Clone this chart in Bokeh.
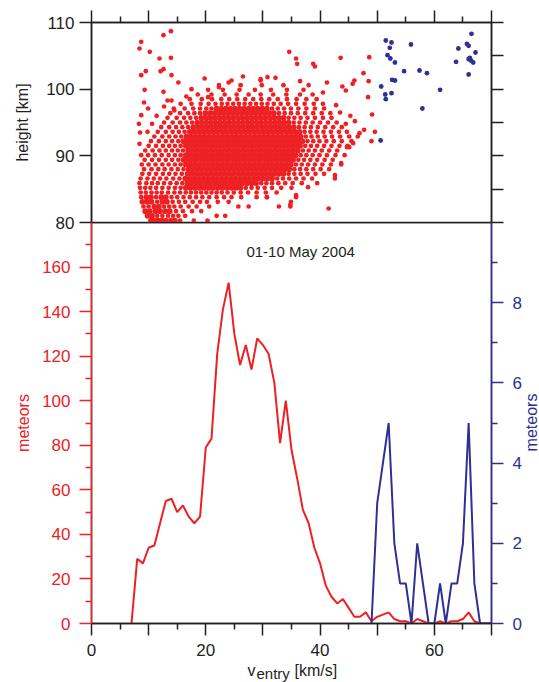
from math import pi
from bokeh.plotting import figure
from bokeh.models import Range1d, LinearAxis, FixedTicker, Label
from bokeh.layouts import column
from bokeh.embed import file_html
from bokeh.resources import INLINE

RED = "#ED2024"
BLUE = "#2E3192"
INK = "#231F20"
FONT = "Liberation Sans"

# ---------------- data ----------------
# histogram (bottom panel): entry velocity bins [km/s]
red_vel = [7, 8, 9, 10, 11, 12, 13, 14, 15, 16, 17, 18, 19, 20, 21, 22, 23, 24, 25, 26,
           27, 28, 29, 30, 31, 32, 33, 34, 35, 36, 37, 38, 39, 40, 41, 42, 43, 44, 45, 46,
           47, 48, 49, 50, 51, 52, 53, 54, 55, 56, 57, 58, 59, 60, 61, 62, 63, 64, 65, 66,
           67, 68, 69, 70]
red_count = [0, 29, 27, 34, 35, 45, 55, 56, 50, 53, 48, 45, 48, 79, 83, 121, 141, 153, 130, 116,
             125, 114, 128, 125, 121, 108, 81, 100, 78, 65, 51, 45, 34, 27, 17, 12, 9, 11, 7, 3,
             3, 5, 1, 3, 4, 5, 2, 1, 1, 0, 2, 1, 0, 0, 1, 0, 1, 1, 2, 5,
             1, 0, 0, 0]
blue_vel = [49, 50, 51, 52, 53, 54, 55, 56, 57, 58, 59, 60, 61, 62, 63, 64, 65, 66, 67, 68, 69, 70]
blue_count = [0, 3, 4, 5, 2, 1, 1, 0, 2, 1, 0, 0, 1, 0, 1, 1, 2, 5, 1, 0, 0, 0]

# scatter (top panel): rows of (height [km], entry velocities [km/s])
red_rows = [
    (80.3, [10.4, 11.1, 11.7, 12.3, 13.0, 13.9, 14.6, 15.5, 17.9, 20.3]),
    (81.0, [9.8, 10.6, 11.5, 12.4, 13.4, 14.3, 15.2, 16.4, 21.9, 23.4]),
    (81.7, [9.4, 10.2, 11.2, 12.0, 12.9, 13.7, 14.8, 16.0, 17.6, 19.2]),
    (82.4, [9.1, 10.0, 11.0, 11.8, 12.7, 13.6, 14.5, 15.6, 17.0, 18.4, 20.6, 25.7, 27.5, 32.8, 34.8]),
    (83.1, [8.9, 9.7, 10.5, 11.5, 12.4, 13.2, 14.2, 15.3, 16.4, 17.7, 19.0, 20.2, 22.1, 24.0, 34.9]),
    (83.8, [8.7, 9.6, 10.4, 11.3, 12.2, 13.0, 14.0, 15.0, 16.1, 17.2, 18.3, 19.4, 20.6, 21.9, 23.2,
            24.5, 26.2, 28.9, 30.7, 35.8]),
    (84.5, [8.6, 9.5, 10.5, 11.4, 12.3, 13.4, 14.5, 15.5, 16.5, 17.4, 18.3, 19.2, 20.1, 21.0, 21.9,
            22.8, 23.8, 24.9, 26.1, 27.4, 28.9, 30.5, 32.4]),
    (85.2, [8.5, 9.4, 10.3, 11.3, 12.4, 13.5, 14.6, 15.6, 16.5, 17.3, 18.1, 18.9, 19.7, 20.5, 21.3,
            22.1, 22.9, 23.7, 24.5, 25.3, 26.1, 27.0, 28.0, 29.1, 30.3, 31.6, 33.2, 35.0]),
    (85.9, [8.4, 9.6, 10.6, 11.6, 12.7, 13.8, 14.9, 15.9, 16.8, 17.6, 18.4, 19.2, 20.0, 20.8, 21.6,
            22.4, 23.2, 24.0, 24.8, 25.6, 26.4, 27.2, 28.0, 28.8, 29.7, 30.6, 31.6, 32.7, 33.9, 35.2, 36.8]),
    (86.6, [8.6, 9.8, 10.9, 12.0, 13.1, 14.3, 15.4, 16.4, 17.2, 18.0, 18.8, 19.6, 20.4, 21.2, 22.0,
            22.8, 23.6, 24.4, 25.2, 26.0, 26.8, 27.6, 28.4, 29.2, 30.0, 30.8, 31.6, 32.5, 33.5, 34.6,
            35.8, 37.1, 38.6]),
    (87.3, [8.9, 10.1, 11.3, 12.5, 13.6, 14.7, 15.8, 16.8, 17.6, 18.4, 19.2, 20.0, 20.8, 21.6, 22.4,
            23.2, 24.0, 24.8, 25.6, 26.4, 27.2, 28.0, 28.8, 29.6, 30.4, 31.2, 32.0, 32.8, 33.6, 34.5,
            35.5, 36.6, 37.8, 39.2, 40.7]),
    (88.0, [9.2, 10.5, 11.7, 12.8, 14.0, 15.1, 16.1, 17.0, 17.8, 18.6, 19.4, 20.2, 21.0, 21.8, 22.6,
            23.4, 24.2, 25.0, 25.8, 26.6, 27.4, 28.2, 29.0, 29.8, 30.6, 31.4, 32.2, 33.0, 33.8, 34.6,
            35.5, 36.5, 37.6, 38.8, 40.1, 41.6]),
    (88.7, [8.8, 10.0, 11.2, 12.4, 13.5, 14.6, 15.6, 16.5, 17.3, 18.1, 18.9, 19.7, 20.5, 21.3, 22.1,
            22.9, 23.7, 24.5, 25.3, 26.1, 26.9, 27.7, 28.5, 29.3, 30.1, 30.9, 31.7, 32.5, 33.3, 34.1,
            34.9, 35.8, 36.8, 37.9, 39.1, 40.4, 41.9, 43.7]),
    (89.4, [9.3, 10.6, 11.8, 13.0, 14.1, 15.2, 16.1, 16.9, 17.7, 18.5, 19.3, 20.1, 20.9, 21.7, 22.5,
            23.3, 24.1, 24.9, 25.7, 26.5, 27.3, 28.1, 28.9, 29.7, 30.5, 31.3, 32.1, 32.9, 33.7, 34.5,
            35.3, 36.2, 37.2, 38.3, 39.5, 40.8, 42.2]),
    (90.1, [8.7, 9.9, 11.1, 12.3, 13.5, 14.6, 15.6, 16.5, 17.3, 18.1, 18.9, 19.7, 20.5, 21.3, 22.1,
            22.9, 23.7, 24.5, 25.3, 26.1, 26.9, 27.7, 28.5, 29.3, 30.1, 30.9, 31.7, 32.5, 33.3, 34.1,
            34.9, 35.7, 36.6, 37.6, 38.7, 39.9, 41.2, 42.7, 44.3]),
    (90.8, [9.4, 10.7, 11.9, 13.0, 14.1, 15.1, 16.0, 16.9, 17.7, 18.5, 19.3, 20.1, 20.9, 21.7, 22.5,
            23.3, 24.1, 24.9, 25.7, 26.5, 27.3, 28.1, 28.9, 29.7, 30.5, 31.3, 32.1, 32.9, 33.7, 34.5,
            35.3, 36.1, 37.0, 38.0, 39.1, 40.3, 41.6, 43.0]),
    (91.5, [10.0, 11.3, 12.5, 13.6, 14.6, 15.6, 16.5, 17.3, 18.1, 18.9, 19.7, 20.5, 21.3, 22.1, 22.9,
            23.7, 24.5, 25.3, 26.1, 26.9, 27.7, 28.5, 29.3, 30.1, 30.9, 31.7, 32.5, 33.3, 34.1, 34.9,
            35.7, 36.5, 37.4, 38.4, 39.5, 40.7, 42.0, 43.4, 44.8]),
    (92.2, [10.4, 11.8, 13.0, 14.1, 15.2, 16.1, 16.9, 17.7, 18.5, 19.3, 20.1, 20.9, 21.7, 22.5, 23.3,
            24.1, 24.9, 25.7, 26.5, 27.3, 28.1, 28.9, 29.7, 30.5, 31.3, 32.1, 32.9, 33.7, 34.5, 35.3,
            36.1, 36.9, 37.8, 38.8, 39.9, 41.1, 42.4, 43.8, 45.5]),
    (92.9, [11.0, 12.4, 13.6, 14.7, 15.7, 16.6, 17.4, 18.2, 19.0, 19.8, 20.6, 21.4, 22.2, 23.0, 23.8,
            24.6, 25.4, 26.2, 27.0, 27.8, 28.6, 29.4, 30.2, 31.0, 31.8, 32.6, 33.4, 34.2, 35.0, 35.8,
            36.6, 37.5, 38.5, 39.6, 40.8, 42.1, 43.5, 45.1, 46.6]),
    (93.6, [11.6, 13.0, 14.2, 15.3, 16.3, 17.2, 18.0, 18.8, 19.6, 20.4, 21.2, 22.0, 22.8, 23.6, 24.4,
            25.2, 26.0, 26.8, 27.6, 28.4, 29.2, 30.0, 30.8, 31.6, 32.4, 33.2, 34.0, 34.8, 35.6, 36.4,
            37.3, 38.3, 39.4, 40.6, 41.9, 43.3, 44.7]),
    (94.3, [12.2, 13.6, 14.8, 15.9, 16.9, 17.8, 18.6, 19.4, 20.2, 21.0, 21.8, 22.6, 23.4, 24.2, 25.0,
            25.8, 26.6, 27.4, 28.2, 29.0, 29.8, 30.6, 31.4, 32.2, 33.0, 33.8, 34.6, 35.4, 36.3, 37.3,
            38.4, 39.6, 40.9, 42.3, 43.8]),
    (95.0, [12.7, 14.2, 15.5, 16.6, 17.6, 18.5, 19.3, 20.1, 20.9, 21.7, 22.5, 23.3, 24.1, 24.9, 25.7,
            26.5, 27.3, 28.1, 28.9, 29.7, 30.5, 31.3, 32.1, 32.9, 33.7, 34.5, 35.4, 36.4, 37.5, 38.7,
            40.0, 41.4, 42.9]),
    (95.7, [13.3, 14.9, 16.2, 17.3, 18.3, 19.2, 20.0, 20.8, 21.6, 22.4, 23.2, 24.0, 24.8, 25.6, 26.4,
            27.2, 28.0, 28.8, 29.6, 30.4, 31.2, 32.0, 32.8, 33.6, 34.5, 35.5, 36.6, 37.8, 39.1, 40.5, 42.0]),
    (96.4, [13.8, 15.5, 16.9, 18.0, 19.0, 19.9, 20.7, 21.5, 22.3, 23.1, 23.9, 24.7, 25.5, 26.3, 27.1,
            27.9, 28.7, 29.5, 30.3, 31.1, 31.9, 32.8, 33.8, 34.9, 36.1, 37.4, 38.8, 40.3, 41.8]),
    (97.1, [14.4, 16.3, 17.8, 19.0, 20.1, 21.0, 21.9, 22.7, 23.5, 24.3, 25.1, 25.9, 26.7, 27.5, 28.3,
            29.1, 29.9, 30.7, 31.6, 32.6, 33.7, 34.9, 36.2, 37.6, 39.1, 40.7]),
    (97.8, [15.6, 17.5, 19.1, 20.5, 21.7, 22.8, 23.8, 24.8, 25.8, 26.8, 27.8, 28.8, 29.8, 30.8, 31.9,
            33.1, 34.4, 35.8, 37.3, 38.9, 40.5]),
    (98.5, [17.2, 19.3, 21.1, 22.7, 24.1, 25.5, 26.9, 28.3, 29.7, 31.1, 32.6, 34.2, 35.9, 37.6, 39.4]),
    (99.2, [18.6, 21.0, 23.3, 25.4, 27.5, 29.6, 31.8, 34.1, 36.5, 38.7]),
    (99.9, [20.4, 23.0, 25.9, 28.6, 31.4, 34.2, 37.1]),
    (100.6, [22.3, 26.1, 29.8, 33.6]),
    (101.3, [24.5, 29.6]),
]
# isolated red points (entry velocity, height)
red_extra = [
    (8.4, 106.1), (8.7, 107.1), (10.2, 105.6), (11.9, 104.6), (12.6, 108.1), (13.9, 108.7),
    (8.7, 102.1), (9.5, 102.7), (12.1, 102.7), (12.6, 103.0), (13.9, 104.7), (14.0, 102.1),
    (15.2, 101.0), (9.3, 99.9), (12.6, 99.6), (9.2, 98.0), (12.7, 97.4), (13.3, 98.3),
    (14.0, 98.3), (14.5, 96.8), (19.8, 101.6), (20.4, 98.8), (22.3, 100.3), (29.6, 101.5),
    (30.8, 101.8), (32.2, 101.7), (34.6, 105.6), (35.8, 104.6), (36.0, 103.8), (38.8, 103.8),
    (39.1, 103.4), (43.6, 104.7), (48.6, 104.8), (47.6, 102.4), (48.5, 101.2), (46.0, 101.3),
    (45.7, 100.8), (48.4, 98.8), (49.1, 96.2), (49.6, 93.6), (49.0, 92.2), (47.7, 93.9),
    (46.9, 93.4), (44.5, 94.8), (44.7, 91.3), (43.7, 88.9), (42.6, 87.1), (41.5, 82.1),
    (35.8, 84.1), (34.8, 82.7), (30.7, 83.8), (43.9, 100.4), (44.5, 99.8), (41.2, 101.0),
    (40.5, 99.5), (42.8, 97.6), (43.5, 96.5), (45.3, 96.0), (46.1, 95.2), (38.0, 100.6),
    (36.5, 101.2), (26.5, 101.9), (24.0, 101.0), (17.5, 100.0), (16.6, 98.9), (11.4, 96.0),
    (10.6, 94.8), (9.8, 93.6), (8.5, 93.5), (8.3, 94.8), (8.7, 96.1), (9.9, 97.1),
    (8.4, 91.8), (45.8, 91.9), (45.1, 91.3), (42.6, 86.6), (39.5, 85.9), (37.9, 85.3),
]
blue_pts = [
    (51.5, 107.3), (52.5, 107.0), (52.2, 106.2), (51.8, 105.1), (52.3, 104.6), (53.1, 104.0),
    (55.9, 106.7), (54.7, 102.7), (57.4, 102.8), (58.7, 102.4), (52.6, 101.4), (53.1, 101.3),
    (50.7, 100.4), (51.4, 99.2), (52.5, 99.4), (51.5, 98.5), (61.0, 99.9), (57.9, 97.1),
    (50.6, 92.3), (66.5, 108.3), (65.7, 106.8), (66.0, 106.5), (64.2, 106.1), (67.2, 105.5),
    (63.8, 104.1), (66.0, 104.5), (66.4, 104.3), (66.8, 104.0), (66.0, 102.2), (66.2, 104.7),
]

# dense-core dots are drawn a little larger so the core reads as a solid mass
row_v, row_h, row_size = [], [], []
for h, vs in red_rows:
    for i, v in enumerate(vs):
        gaps = [abs(v - vs[j]) for j in (i - 1, i + 1) if 0 <= j < len(vs)]
        row_v.append(v)
        row_h.append(h)
        row_size.append(5.7 if gaps and min(gaps) <= 0.85 else 4.7)
extra_v = [p[0] for p in red_extra]
extra_h = [p[1] for p in red_extra]
blue_v = [p[0] for p in blue_pts]
blue_h = [p[1] for p in blue_pts]

x_major = [0, 10, 20, 30, 40, 50, 60, 70]
x_minor = [5, 15, 25, 35, 45, 55, 65]
h_major = [80, 90, 100, 110]
h_right = [80, 85, 90, 95, 100, 105, 110]
red_major = [0, 20, 40, 60, 80, 100, 120, 140, 160]
red_minor = [10, 30, 50, 70, 90, 110, 130, 150, 170]
blue_major = [0, 2, 4, 6, 8]
blue_minor = [1, 3, 5, 7, 9]


def style_axis(ax, color, text_color=None, labels=True, standoff=4, minor=True):
    ax.axis_line_color = color
    ax.axis_line_width = 1.5
    ax.major_tick_line_color = color
    ax.major_tick_line_width = 1.5
    ax.major_tick_out = 12
    ax.major_tick_in = 0
    ax.minor_tick_line_color = color if minor else None
    ax.minor_tick_line_width = 1.5
    ax.minor_tick_out = 6
    ax.minor_tick_in = 0
    ax.major_label_text_font = FONT
    ax.major_label_text_font_size = "17px"
    ax.major_label_text_color = (text_color or color) if labels else None
    ax.major_label_standoff = standoff
    ax.axis_label_text_font = FONT
    ax.axis_label_text_font_style = "normal"
    ax.axis_label_text_font_size = "16px"
    ax.axis_label_text_color = text_color or color


xr = Range1d(0, 70)

# ---------------- top panel ----------------
p1 = figure(width=539, height=234, x_range=xr, y_range=Range1d(80, 110),
            x_axis_location=None, y_axis_location=None,
            output_backend="svg", toolbar_location=None,
            min_border_left=91, min_border_right=48, min_border_top=22, min_border_bottom=12)
p1.outline_line_color = INK
p1.outline_line_width = 1.5
p1.outline_line_alpha = 1.0
p1.grid.visible = False

ax = LinearAxis(ticker=FixedTicker(ticks=h_major), axis_label="height [km]")
style_axis(ax, INK, standoff=5, minor=False)
ax.axis_label_standoff = 12
p1.add_layout(ax, "left")

ax = LinearAxis(ticker=FixedTicker(ticks=[], minor_ticks=h_right))
style_axis(ax, INK, labels=False)
ax.minor_tick_out = 12
p1.add_layout(ax, "right")

ax = LinearAxis(ticker=FixedTicker(ticks=x_major, minor_ticks=x_minor))
style_axis(ax, INK, labels=False, standoff=0)
p1.add_layout(ax, "above")

p1.scatter(row_v, row_h, size=row_size, fill_color=RED, line_color=None)
p1.scatter(extra_v, extra_h, size=4.7, fill_color=RED, line_color=None)
p1.scatter(blue_v, blue_h, size=4.8, fill_color=BLUE, line_color=None)

# ---------------- bottom panel ----------------
p2 = figure(width=539, height=460, x_range=xr, y_range=Range1d(0, 180),
            x_axis_location=None, y_axis_location=None,
            output_backend="svg", toolbar_location=None,
            min_border_left=91, min_border_right=48, min_border_top=0, min_border_bottom=59)
p2.margin = (-12, 0, 0, 0)
p2.extra_y_ranges = {"blue": Range1d(0, 10)}
p2.outline_line_color = INK
p2.outline_line_width = 1.5
p2.outline_line_alpha = 1.0
p2.border_fill_color = None
p2.background_fill_color = None
p2.grid.visible = False

ax = LinearAxis(ticker=FixedTicker(ticks=red_major, minor_ticks=red_minor), axis_label="meteors")
style_axis(ax, RED, standoff=9)
ax.axis_label_standoff = 7
p2.add_layout(ax, "left")

ax = LinearAxis(y_range_name="blue", ticker=FixedTicker(ticks=blue_major, minor_ticks=blue_minor))
style_axis(ax, BLUE, standoff=9)
p2.add_layout(ax, "right")

ax = LinearAxis(ticker=FixedTicker(ticks=x_major, minor_ticks=x_minor))
style_axis(ax, INK, standoff=8)
ax.major_label_overrides = {10: "", 30: "", 50: "", 70: ""}
p2.add_layout(ax, "below")

p2.line(red_vel, red_count, line_color=RED, line_width=2)
p2.line(blue_vel, blue_count, line_color=BLUE, line_width=2, y_range_name="blue")

p2.add_layout(Label(x=36.6, y=167, text="01-10 May 2004", text_align="center", text_baseline="middle",
                    text_font=FONT, text_font_size="15px", text_color=INK))

# ---------------- transparent text overlay (page pixels) ----------------
p3 = figure(width=539, height=682, x_range=Range1d(0, 539), y_range=Range1d(682, 0),
            x_axis_location=None, y_axis_location=None,
            output_backend="svg", toolbar_location=None, min_border=0)
if "frame_align" in p3.properties():
    p3.frame_align = False
p3.margin = (-682, 0, 0, 0)
p3.outline_line_color = None
p3.border_fill_color = None
p3.background_fill_color = None
p3.grid.visible = False

p3.add_layout(Label(x=247, y=670, text="v", text_align="left", text_baseline="alphabetic",
                    text_font=FONT, text_font_size="16px", text_color=INK))
p3.add_layout(Label(x=256, y=673, text="entry", text_align="left", text_baseline="alphabetic",
                    text_font=FONT, text_font_size="15px", text_color=INK))
p3.add_layout(Label(x=294, y=670, text="[km/s]", text_align="left", text_baseline="alphabetic",
                    text_font=FONT, text_font_size="16px", text_color=INK))
p3.add_layout(Label(x=531, y=422, angle=pi / 2, text="meteors", text_align="center",
                    text_baseline="middle", text_font=FONT, text_font_size="16px", text_color=BLUE))

layout = column(p1, p2, p3, spacing=0)
open("out.html", "w").write(file_html(layout, INLINE))
